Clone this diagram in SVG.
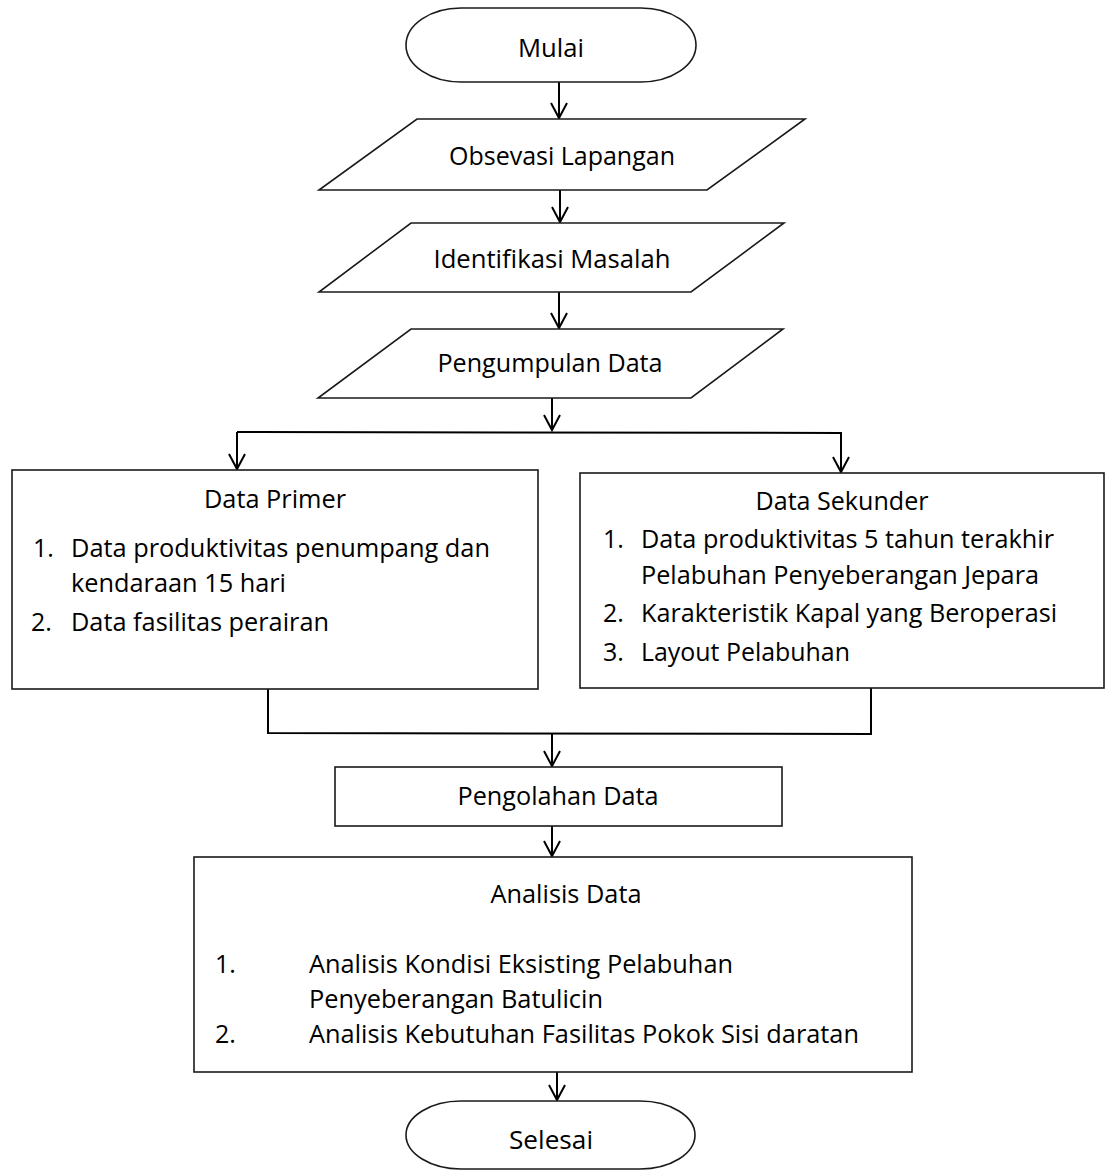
<svg xmlns="http://www.w3.org/2000/svg" width="1106" height="1171" viewBox="0 0 1106 1171">
<style>
.shape{fill:#fff;stroke:#1a1a1a;stroke-width:1.6}
.conn{fill:none;stroke:#000;stroke-width:2}
text{font-family:"Open Sans","Noto Sans","Liberation Sans",sans-serif;font-size:25px;fill:#000}
.c{text-anchor:middle}
</style>
<defs>
<marker id="arr" markerUnits="userSpaceOnUse" markerWidth="20" markerHeight="20" refX="15" refY="8" orient="auto" overflow="visible">
<path d="M0,0 L15,8 L0,16" fill="none" stroke="#000" stroke-width="2"/>
</marker>
</defs>
<rect width="1106" height="1171" fill="#fff"/>
<g id="connectors">
<path class="conn" d="M559,82 V118" marker-end="url(#arr)"/>
<path class="conn" d="M560,190 V222" marker-end="url(#arr)"/>
<path class="conn" d="M559,292 V328" marker-end="url(#arr)"/>
<path class="conn" d="M552,398 V430" marker-end="url(#arr)"/>
<path class="conn" d="M237,432 L841,433"/>
<path class="conn" d="M237,432 V469" marker-end="url(#arr)"/>
<path class="conn" d="M841,432 V472" marker-end="url(#arr)"/>
<path class="conn" d="M268,689 V733 L871,734 V688"/>
<path class="conn" d="M552,733 V766" marker-end="url(#arr)"/>
<path class="conn" d="M552,826 V856" marker-end="url(#arr)"/>
<path class="conn" d="M557,1072 V1100" marker-end="url(#arr)"/>
</g>
<g id="mulai">
<rect class="shape" x="406" y="8" width="290" height="74" rx="55" ry="37"/>
<text class="c" x="551" y="57" textLength="66" lengthAdjust="spacingAndGlyphs">Mulai</text>
</g>
<g id="obsevasi">
<polygon class="shape" points="417,119 805,119 707,190 319,190"/>
<text class="c" x="562" y="165" textLength="226" lengthAdjust="spacingAndGlyphs">Obsevasi Lapangan</text>
</g>
<g id="identifikasi">
<polygon class="shape" points="411,223 784,223 691,292 319,292"/>
<text class="c" x="552" y="268" textLength="237" lengthAdjust="spacingAndGlyphs">Identifikasi Masalah</text>
</g>
<g id="pengumpulan">
<polygon class="shape" points="411,329 783,329 691,398 318,398"/>
<text class="c" x="550" y="372" textLength="225" lengthAdjust="spacingAndGlyphs">Pengumpulan Data</text>
</g>
<g id="data-primer">
<rect class="shape" x="12" y="470" width="526" height="219"/>
<text class="c" x="275" y="508" textLength="142" lengthAdjust="spacingAndGlyphs">Data Primer</text>
<text x="33" y="557">1.</text>
<text x="71" y="557" textLength="419" lengthAdjust="spacingAndGlyphs">Data produktivitas penumpang dan</text>
<text x="71" y="592" textLength="215" lengthAdjust="spacingAndGlyphs">kendaraan 15 hari</text>
<text x="31" y="631">2.</text>
<text x="71" y="631" textLength="258" lengthAdjust="spacingAndGlyphs">Data fasilitas perairan</text>
</g>
<g id="data-sekunder">
<rect class="shape" x="580" y="473" width="524" height="215"/>
<text class="c" x="842" y="510" textLength="173" lengthAdjust="spacingAndGlyphs">Data Sekunder</text>
<text x="603" y="548">1.</text>
<text x="641" y="548" textLength="413" lengthAdjust="spacingAndGlyphs">Data produktivitas 5 tahun terakhir</text>
<text x="641" y="584" textLength="398" lengthAdjust="spacingAndGlyphs">Pelabuhan Penyeberangan Jepara</text>
<text x="603" y="622">2.</text>
<text x="641" y="622" textLength="416" lengthAdjust="spacingAndGlyphs">Karakteristik Kapal yang Beroperasi</text>
<text x="603" y="661">3.</text>
<text x="641" y="661" textLength="209" lengthAdjust="spacingAndGlyphs">Layout Pelabuhan</text>
</g>
<g id="pengolahan">
<rect class="shape" x="335" y="767" width="447" height="59"/>
<text class="c" x="558" y="805" textLength="201" lengthAdjust="spacingAndGlyphs">Pengolahan Data</text>
</g>
<g id="analisis">
<rect class="shape" x="194" y="857" width="718" height="215"/>
<text class="c" x="566" y="903" textLength="151" lengthAdjust="spacingAndGlyphs">Analisis Data</text>
<text x="215" y="973">1.</text>
<text x="309" y="973" textLength="424" lengthAdjust="spacingAndGlyphs">Analisis Kondisi Eksisting Pelabuhan</text>
<text x="309" y="1008" textLength="294" lengthAdjust="spacingAndGlyphs">Penyeberangan Batulicin</text>
<text x="215" y="1043">2.</text>
<text x="309" y="1043" textLength="550" lengthAdjust="spacingAndGlyphs">Analisis Kebutuhan Fasilitas Pokok Sisi daratan</text>
</g>
<g id="selesai">
<rect class="shape" x="406" y="1101" width="289" height="68" rx="55" ry="34"/>
<text class="c" x="551" y="1149" textLength="84" lengthAdjust="spacingAndGlyphs">Selesai</text>
</g>
</svg>
